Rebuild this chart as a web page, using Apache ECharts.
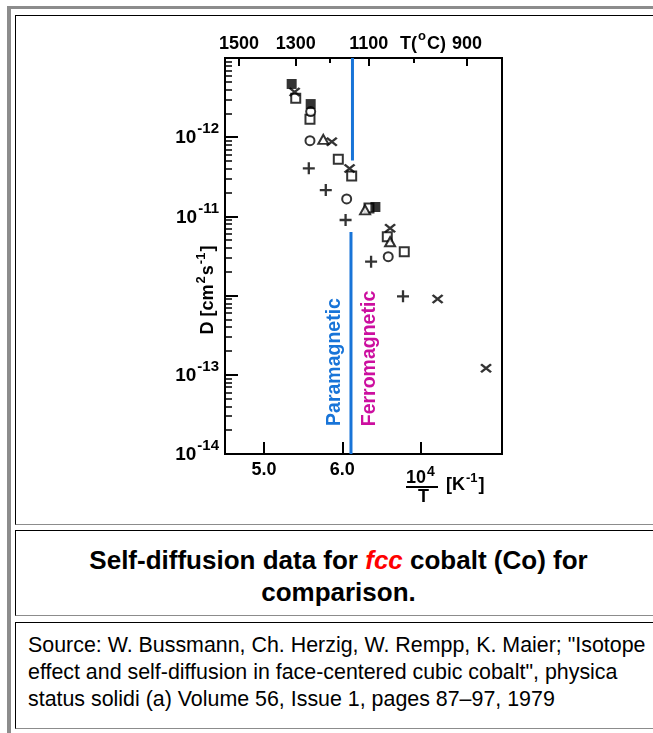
<!DOCTYPE html>
<html><head><meta charset="utf-8">
<script src="https://cdn.jsdelivr.net/npm/echarts@6/dist/echarts.min.js"></script>
<style>
html,body{margin:0;padding:0;background:#fff;}
body{width:653px;height:733px;overflow:hidden;position:relative;font-family:'Liberation Sans',Arial,sans-serif;}
.outer{position:absolute;left:7px;top:6px;width:800px;height:800px;border-left:4px solid #8c8c8c;border-top:3px solid #8c8c8c;}
.cell{position:absolute;left:15px;width:800px;border-top:1px solid #000;border-left:1px solid #000;border-bottom:1px solid #8c8c8c;box-sizing:border-box;}
#c1{top:15px;height:510px;}
#c2{top:530px;height:86px;}
#c3{top:622px;height:107px;}
.caption{position:absolute;left:16px;width:645px;top:544px;text-align:center;font-weight:bold;font-size:26px;line-height:32px;color:#000;}
.caption i{color:#ff0000;}
.source{position:absolute;left:28px;top:632px;font-size:21.4px;line-height:27px;color:#000;white-space:nowrap;}
#chart{position:absolute;left:0;top:0;width:653px;height:733px;}
</style></head>
<body>
<div class="outer"></div>
<div class="cell" id="c1"></div>
<div class="cell" id="c2"></div>
<div class="cell" id="c3"></div>
<div class="caption">Self-diffusion data for <i>fcc</i> cobalt (Co) for<br>comparison.</div>
<div class="source">Source: W. Bussmann, Ch. Herzig, W. Rempp, K. Maier; "Isotope<br>effect and self-diffusion in face-centered cubic cobalt", physica<br>status solidi (a) Volume 56, Issue 1, pages 87–97, 1979</div>
<div id="chart"></div>
<script>
// ---- data (x = 10^4/T [1/K], D = diffusion coefficient) ----
const filledSqX = [5.352, 5.595, 6.422];
const filledSqD = [4.70e-10, 2.62e-10, 1.315e-11];
const openSqX = [5.404, 5.586, 5.948, 6.119, 6.340, 6.574, 6.791];
const openSqD = [3.10e-10, 1.68e-10, 5.26e-11, 3.24e-11, 1.28e-11, 5.55e-12, 3.58e-12];
const crossX = [5.390, 5.865, 6.092, 6.610, 7.217, 7.836];
const crossD = [3.72e-10, 8.77e-11, 4.03e-11, 7.08e-12, 9.06e-13, 1.21e-13];
const circleX = [5.595, 5.586, 6.055, 6.586];
const circleD = [2.11e-10, 9.04e-11, 1.66e-11, 3.10e-12];
const triX = [5.756, 6.290, 6.610];
const triD = [9.40e-11, 1.21e-11, 4.79e-12];
const plusX = [5.571, 5.788, 6.041, 6.367, 6.775];
const plusD = [4.05e-11, 2.15e-11, 9.01e-12, 2.68e-12, 9.80e-13];
// Curie (magnetic transition) line segments
const curieUpperX = [6.129, 6.129];
const curieUpperD = [1e-9, 5.08e-11];
const curieLowerX = [6.110, 6.110];
const curieLowerD = [6.35e-12, 1e-14];

// ---- ticks / labels ----
const xTickValues = [5, 6, 7];
const xLabelValues = [5, 6];
const topMajorTemps = [1500, 1300, 1100, 900];
const topMinorTemps = [1200, 1000];
const yMajorValues = [1e-14, 1e-13, 1e-12, 1e-11, 1e-10, 1e-9];
const yLabelValues = [1e-14, 1e-13, 1e-11, 1e-10];
const yLabelExps = ['-14', '-13', '-11', '-12'];

const F = "'Liberation Sans', Arial, sans-serif";
const toInv = t => 1e4 / (t + 273);
const yMinorValues = [];
for (let n = -14; n <= -10; n++) for (let k = 2; k <= 9; k++) yMinorValues.push(k * Math.pow(10, n));

const zip = (xs, ys) => xs.map((x, i) => [x, ys[i]]);
const crossPath = 'path://M0,0L10,8M0,8L10,0';
const plusPath = 'path://M6,0L6,12M0,6L12,6';
const openStyle = {color: '#fff', borderColor: '#000', borderWidth: 2};
const lineStyleStroke = {color: 'none', borderColor: '#000', borderWidth: 2.3};
const blue = '#1874d8';
const magenta = '#cc0f9f';

// base text (bottom of a tall line) + superscript (top of the line)
const supRich = (bs, ss, lh) => ({
  b: {fontSize: bs, fontWeight: 'bold', fontFamily: F, fill: '#000', color: '#000', lineHeight: lh, verticalAlign: 'bottom'},
  s: {fontSize: ss, fontWeight: 'bold', fontFamily: F, fill: '#000', color: '#000', verticalAlign: 'top', padding: [0, 1, 0, 1]}
});

const chart = echarts.init(document.getElementById('chart'), null, {renderer: 'canvas'});
const baseAxis = {splitLine: {show: false}, minorTick: {show: false}};
const option = {
  animation: false,
  grid: {left: 225, top: 58, width: 277, height: 396, show: true, borderColor: '#000', borderWidth: 2, backgroundColor: 'transparent'},
  xAxis: [
    Object.assign({}, baseAxis, {
      type: 'value', position: 'bottom', min: 4.5, max: 8.04,
      axisLine: {onZero: false, lineStyle: {color: '#000', width: 2}},
      axisTick: {inside: true, length: 12, customValues: xTickValues, lineStyle: {color: '#000', width: 2}},
      axisLabel: {customValues: xLabelValues, formatter: v => v.toFixed(1), fontSize: 18, fontWeight: 'bold', fontFamily: F, color: '#000', margin: 7}
    }),
    Object.assign({}, baseAxis, {
      type: 'value', position: 'top', min: 5.463, max: 8.969,
      axisLine: {onZero: false, lineStyle: {color: '#000', width: 2}},
      axisTick: {inside: true, length: 8, customValues: topMajorTemps.map(toInv), lineStyle: {color: '#000', width: 2}},
      axisLabel: {customValues: topMajorTemps.map(toInv), formatter: v => String(Math.round(1e4 / v - 273)), fontSize: 18, fontWeight: 'bold', fontFamily: F, color: '#000', margin: 5}
    }),
    Object.assign({}, baseAxis, {
      type: 'value', position: 'top', min: 5.463, max: 8.969,
      axisLine: {show: false},
      axisTick: {inside: true, length: 5, customValues: topMinorTemps.map(toInv), lineStyle: {color: '#000', width: 2}},
      axisLabel: {show: false}
    })
  ],
  yAxis: [
    Object.assign({}, baseAxis, {
      type: 'log', logBase: 10, min: 1e-14, max: 1e-9, position: 'left',
      axisLine: {onZero: false, lineStyle: {color: '#000', width: 2}},
      axisTick: {inside: true, length: 13, customValues: yMajorValues, lineStyle: {color: '#000', width: 2}},
      axisLabel: {
        customValues: yLabelValues, margin: 5, padding: [0, 0, 5, 0],
        formatter: function (v) {
          const i = yLabelValues.findIndex(t => Math.abs(Math.log10(t) - Math.log10(v)) < 0.01);
          return i < 0 ? '' : '{b|10}{s|' + yLabelExps[i] + '}';
        },
        rich: supRich(19, 15, 26)
      }
    }),
    Object.assign({}, baseAxis, {
      type: 'log', logBase: 10, min: 1e-14, max: 1e-9, position: 'left',
      axisLine: {show: false, onZero: false},
      axisTick: {inside: true, length: 7, customValues: yMinorValues, lineStyle: {color: '#000', width: 1.5}},
      axisLabel: {show: false}
    })
  ],
  series: [
    {type: 'line', data: zip(curieUpperX, curieUpperD), symbol: 'none', lineStyle: {color: blue, width: 3}, silent: true, z: 1},
    {type: 'line', data: zip(curieLowerX, curieLowerD), symbol: 'none', lineStyle: {color: blue, width: 3}, silent: true, z: 1},
    {type: 'scatter', data: zip(openSqX, openSqD), symbol: 'rect', symbolSize: 9, itemStyle: openStyle, silent: true, z: 2},
    {type: 'scatter', data: zip(circleX, circleD), symbol: 'circle', symbolSize: 9, itemStyle: openStyle, silent: true, z: 3},
    {type: 'scatter', data: zip(triX, triD), symbol: 'triangle', symbolSize: [10, 9], itemStyle: openStyle, silent: true, z: 4},
    {type: 'scatter', data: zip(filledSqX, filledSqD), symbol: 'rect', symbolSize: 10, itemStyle: {color: '#000'}, silent: true, z: 5},
    {type: 'scatter', data: zip(crossX, crossD), symbol: crossPath, symbolSize: [10, 8], itemStyle: lineStyleStroke, silent: true, z: 6},
    {type: 'scatter', data: zip(plusX, plusD), symbol: plusPath, symbolSize: 12, itemStyle: lineStyleStroke, silent: true, z: 6}
  ],
  graphic: [
    {type: 'text', x: 206, y: 290, rotation: Math.PI / 2, silent: true,
     style: {text: '{b|D [cm}{s|2}{b|s}{s|-1}{b|]}', align: 'center', verticalAlign: 'middle', rich: supRich(18, 13, 23)}},
    {type: 'text', x: 400, y: 41.5, silent: true,
     style: {text: '{b|T(}{s|o}{b|C)}', align: 'left', verticalAlign: 'middle', rich: supRich(18, 13, 23)}},
    {type: 'text', x: 421, y: 476.5, silent: true,
     style: {text: '{b|10}{s|4}', align: 'center', verticalAlign: 'middle', rich: supRich(18, 14, 22)}},
    {type: 'line', silent: true, shape: {x1: 406, y1: 487, x2: 438, y2: 487}, style: {stroke: '#000', lineWidth: 2}},
    {type: 'text', x: 423.5, y: 497, silent: true,
     style: {text: 'T', align: 'center', verticalAlign: 'middle', fontSize: 18, fontWeight: 'bold', fontFamily: F, fill: '#000'}},
    {type: 'text', x: 446, y: 483, silent: true,
     style: {text: '{b|[K}{s|-1}{b|]}', align: 'left', verticalAlign: 'middle', rich: supRich(18, 13, 23)}},
    {type: 'text', x: 334.5, y: 362, rotation: Math.PI / 2, silent: true,
     style: {text: 'Paramagnetic', align: 'center', verticalAlign: 'middle', fontSize: 19.5, fontWeight: 'bold', fontFamily: F, fill: blue}},
    {type: 'text', x: 369.5, y: 358.5, rotation: Math.PI / 2, silent: true,
     style: {text: 'Ferromagnetic', align: 'center', verticalAlign: 'middle', fontSize: 19.5, fontWeight: 'bold', fontFamily: F, fill: magenta}}
  ]
};
chart.setOption(option);
</script>
</body></html>
